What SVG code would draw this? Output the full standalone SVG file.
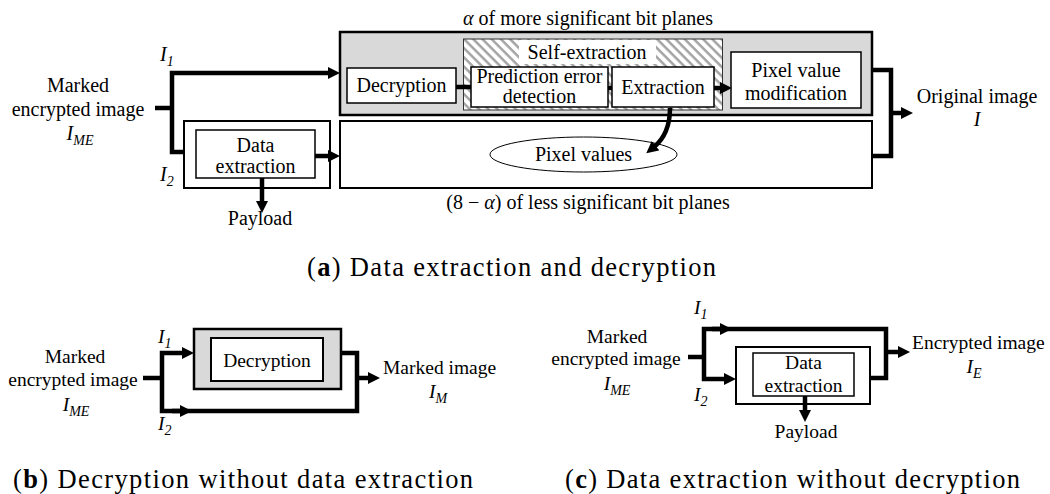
<svg xmlns="http://www.w3.org/2000/svg" width="1050" height="494" viewBox="0 0 1050 494" font-family="'Liberation Serif', 'DejaVu Serif', serif">
  <style>
    text { font-family: 'Liberation Serif', 'DejaVu Serif', serif; fill: #000; }
    .lbl { font-size: 20px; }
    .lbl2 { font-size: 19.5px; }
    .mid { text-anchor: middle; }
    .math { font-style: italic; }
    .sub { font-size: 14px; }
    .cap { font-size: 26.5px; }
    .box { fill: #fff; stroke: #000; stroke-width: 2; }
    .inner { fill: #fff; stroke: #000; stroke-width: 1.5; }
    .shade { fill: #d9d9d9; stroke: #000; stroke-width: 2.5; }
    .wire { fill: none; stroke: #000; stroke-width: 4.5; stroke-linejoin: miter; }
    .arrow { marker-end: url(#ah); }
  </style>
  <defs>
    <marker id="ah" viewBox="0 0 12 12" refX="2" refY="6" markerWidth="12" markerHeight="12" markerUnits="userSpaceOnUse" orient="auto">
      <path d="M0,0 L12,6 L0,12 z" fill="#000"/>
    </marker>
    <pattern id="hatch" width="6.5" height="6.5" patternUnits="userSpaceOnUse" patternTransform="rotate(-45)">
      <rect width="6.5" height="6.5" fill="#fff"/>
      <line x1="1.5" y1="0" x2="1.5" y2="6.5" stroke="#a0a0a0" stroke-width="2.4"/>
    </pattern>
  </defs>

  <!-- (a) data extraction and decryption -->
  <g id="a-labels">
    <text class="lbl" x="588" y="25" text-anchor="middle" font-size="19.5"><tspan class="math">α</tspan> of more significant bit planes</text>
    <text class="lbl" x="588" y="209" text-anchor="middle" font-size="19.5">(8 − <tspan class="math">α</tspan>) of less significant bit planes</text>
    <text class="lbl mid" x="78" y="92">Marked</text>
    <text class="lbl mid" x="78" y="116">encrypted image</text>
    <text class="lbl mid math" x="80" y="140">I<tspan class="sub" dy="5">ME</tspan></text>
    <text class="lbl math" x="160" y="61">I<tspan class="sub" dy="5">1</tspan></text>
    <text class="lbl math" x="160" y="181">I<tspan class="sub" dy="5">2</tspan></text>
  </g>
  <g id="a-msb">
    <rect class="shade" x="340" y="32" width="532" height="83"/>
  </g>
  <g id="a-lsb">
    <rect class="box" x="340" y="121" width="532" height="67"/>
  </g>
  <g id="a-self-extraction">
    <rect x="463.5" y="39" width="259" height="71" fill="url(#hatch)" stroke="#333" stroke-width="1"/>
    <rect x="519" y="40" width="137" height="24" fill="#fff"/>
    <text class="lbl mid" x="587" y="59">Self-extraction</text>
  </g>
  <g id="a-decryption">
    <rect class="inner" x="347" y="68" width="109" height="35"/>
    <text class="lbl mid" x="401.5" y="92">Decryption</text>
  </g>
  <g id="a-prediction">
    <rect class="inner" x="471" y="67" width="137" height="40"/>
    <text class="lbl mid" x="539.5" y="83">Prediction error</text>
    <text class="lbl mid" x="539.5" y="103">detection</text>
  </g>
  <g id="a-extraction">
    <rect class="inner" x="612" y="67" width="102" height="40"/>
    <text class="lbl mid" x="663" y="94">Extraction</text>
  </g>
  <g id="a-modification">
    <rect class="inner" x="731" y="52" width="130" height="56"/>
    <text class="lbl mid" x="796" y="77">Pixel value</text>
    <text class="lbl mid" x="796" y="100">modification</text>
  </g>
  <g id="a-pixel-values">
    <ellipse cx="583.5" cy="154.5" rx="93.5" ry="17.5" fill="#fff" stroke="#000" stroke-width="1"/>
    <text class="lbl mid" x="583.5" y="161">Pixel values</text>
  </g>
  <g id="a-data-extraction">
    <rect class="box" x="184" y="121" width="146" height="67"/>
    <rect class="inner" x="196" y="130" width="119" height="48"/>
    <text class="lbl mid" x="255.5" y="152">Data</text>
    <text class="lbl mid" x="255.5" y="173">extraction</text>
  </g>
  <g id="a-payload">
    <text class="lbl mid" x="260" y="225">Payload</text>
  </g>
  <g id="a-output">
    <text class="lbl mid" x="977" y="103">Original image</text>
    <text class="lbl mid math" x="977" y="126">I</text>
  </g>
  <g id="a-connectors">
    <path class="wire" d="M155,108 H172"/>
    <path class="wire arrow" d="M184,152 H172 V73 H330"/>
    <path class="wire arrow" d="M315,156 H330"/>
    <path class="wire arrow" d="M262,178 V203"/>
    <path class="wire" d="M456,87 H471"/>
    <path class="wire" d="M608,88 H612"/>
    <path class="wire arrow" d="M714,88 H722"/>
    <path class="wire arrow" d="M670,108 C670,125 665,138 654,147"/>
    <path class="wire" d="M872,70 H891 V156 H872"/>
    <path class="wire arrow" d="M891,113 H903"/>
  </g>
  <text class="cap" x="307" y="276" textLength="409" lengthAdjust="spacing">(<tspan font-weight="bold">a</tspan>) Data extraction and decryption</text>

  <!-- (b) decryption without data extraction -->
  <g id="b-input">
    <text class="lbl2 mid" x="75" y="363">Marked</text>
    <text class="lbl2 mid" x="73" y="386">encrypted image</text>
    <text class="lbl2 mid math" x="76" y="411">I<tspan class="sub" dy="5">ME</tspan></text>
    <text class="lbl2 math" x="158" y="343">I<tspan class="sub" dy="5">1</tspan></text>
    <text class="lbl2 math" x="158" y="430">I<tspan class="sub" dy="5">2</tspan></text>
  </g>
  <g id="b-decryption">
    <rect class="shade" x="194" y="329" width="147" height="60"/>
    <rect class="box" x="211" y="338" width="112" height="43"/>
    <text class="lbl2 mid" x="267" y="367">Decryption</text>
  </g>
  <g id="b-output">
    <text class="lbl2" x="383" y="374">Marked image</text>
    <text class="lbl2 mid math" x="438" y="398">I<tspan class="sub" dy="5">M</tspan></text>
  </g>
  <g id="b-connectors">
    <path class="wire" d="M143,378 H162"/>
    <path class="wire arrow" d="M341,353 H357 V411 H162 V353 H184"/>
    <path class="wire arrow" d="M172,411 H182"/>
    <path class="wire arrow" d="M357,378 H370"/>
  </g>
  <text class="cap" x="13" y="488" textLength="460" lengthAdjust="spacing">(<tspan font-weight="bold">b</tspan>) Decryption without data extraction</text>

  <!-- (c) data extraction without decryption -->
  <g id="c-input">
    <text class="lbl2 mid" x="617" y="343">Marked</text>
    <text class="lbl2 mid" x="616" y="365">encrypted image</text>
    <text class="lbl2 mid math" x="617" y="390">I<tspan class="sub" dy="5">ME</tspan></text>
    <text class="lbl2 math" x="694" y="314">I<tspan class="sub" dy="5">1</tspan></text>
    <text class="lbl2 math" x="694" y="401">I<tspan class="sub" dy="5">2</tspan></text>
  </g>
  <g id="c-data-extraction">
    <rect class="box" x="736" y="347" width="134" height="57"/>
    <rect class="inner" x="753" y="353" width="101" height="43"/>
    <text class="lbl2 mid" x="803.5" y="369">Data</text>
    <text class="lbl2 mid" x="803.5" y="392">extraction</text>
  </g>
  <g id="c-payload">
    <text class="lbl2 mid" x="806" y="438">Payload</text>
  </g>
  <g id="c-output">
    <text class="lbl2" x="912" y="349">Encrypted image</text>
    <text class="lbl2 mid math" x="974" y="373">I<tspan class="sub" dy="5">E</tspan></text>
  </g>
  <g id="c-connectors">
    <path class="wire" d="M688,357 H704"/>
    <path class="wire arrow" d="M870,378 H886 V329 H704 V379 H726"/>
    <path class="wire arrow" d="M712,329 H722"/>
    <path class="wire arrow" d="M886,352 H900"/>
    <path class="wire arrow" d="M805,396 V412"/>
  </g>
  <text class="cap" x="565" y="488" textLength="455" lengthAdjust="spacing">(<tspan font-weight="bold">c</tspan>) Data extraction without decryption</text>
</svg>
